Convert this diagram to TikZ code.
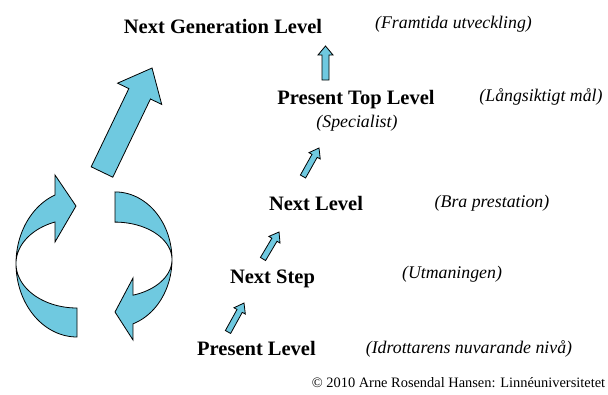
\documentclass[tikz,border=0pt]{standalone}
\usepackage{fontspec}
\setmainfont{Liberation Serif}[BoldFont={Liberation Serif Bold}, ItalicFont={Liberation Serif Italic}, BoldItalicFont={Liberation Serif Bold Italic}]
\definecolor{arrowblue}{RGB}{111,201,224}
\tikzset{
  arrowstyle/.style={draw=black, line width=0.8pt, fill=arrowblue, line join=miter},
  pics/blockarrow/.style n args={4}{code={
    \draw[arrowstyle] (0,-#2) -- ({#1-#4},-#2) -- ({#1-#4},-#3) -- (#1,0) -- ({#1-#4},#3) -- ({#1-#4},#2) -- (0,#2) -- cycle;
  }},
  levelbold/.style={font=\fontsize{20.5}{24}\selectfont\bfseries, anchor=base, inner sep=0pt},
  levelital/.style={font=\fontsize{17.8}{21}\selectfont\itshape, anchor=base, inner sep=0pt},
  copytext/.style={font=\fontsize{14.4}{17}\selectfont, anchor=base, inner sep=0pt}
}
\begin{document}
\begin{tikzpicture}[x=1pt,y=-1pt]
\useasboundingbox (0,0) rectangle (608,394);

% circular arrows
\draw[arrowstyle] plot[domain=111.1:270, samples=60] ({77+61*cos(\x)},{263.5-73.5*sin(\x)})
  -- plot[domain=270:111.1, samples=60] ({77+61*cos(\x)},{263.5-44.5*sin(\x)})
  -- (55,242) -- (76,206) -- (55,175) -- cycle;
\draw[arrowstyle] plot[domain=90:-71.6, samples=60] ({115+57*cos(\x)},{259.6-67.7*sin(\x)})
  -- (133,340) -- (115,312) -- (133,278)
  -- plot[domain=-71.6:90, samples=60] ({115+57*cos(\x)},{259.6-37.5*sin(\x)}) -- cycle;

% big arrow
\pic[rotate=64.3] at (102,172) {blockarrow={115.4}{12}{24.5}{28.6}};

% small arrows
\pic[rotate=90] at (325.5,80) {blockarrow={34}{3.5}{7.5}{9}};
\pic[rotate=60.7] at (303,176.5) {blockarrow={32.7}{3}{6.5}{9}};
\pic[rotate=59.3] at (263,259) {blockarrow={31.4}{3}{6.5}{9}};
\pic[rotate=61.1] at (228,332) {blockarrow={33.1}{3}{6.5}{9}};

% texts
\node[levelbold] (ngl) at (223,33) {Next Generation Level};
\node[levelital] (fram) at (453.5,28.5) {(Framtida utveckling)};
\node[levelbold] (ptl) at (356,104) {Present Top Level};
\node[levelital] (spec) at (357,127) {(Specialist)};
\node[levelital] (lang) at (541,101) {(Långsiktigt mål)};
\node[levelbold] (nl) at (316,210) {Next Level};
\node[levelital] (bra) at (492,207) {(Bra prestation)};
\node[levelbold] (ns) at (272.5,283) {Next Step};
\node[levelital] (utm) at (452,278) {(Utmaningen)};
\node[levelbold] (pl) at (256.5,355) {Present Level};
\node[levelital] (idr) at (469,353) {(Idrottarens nuvarande nivå)};
\node[copytext] (copy) at (458.5,387) {© 2010 Arne Rosendal Hansen: Linnéuniversitetet};
\end{tikzpicture}
\end{document}
